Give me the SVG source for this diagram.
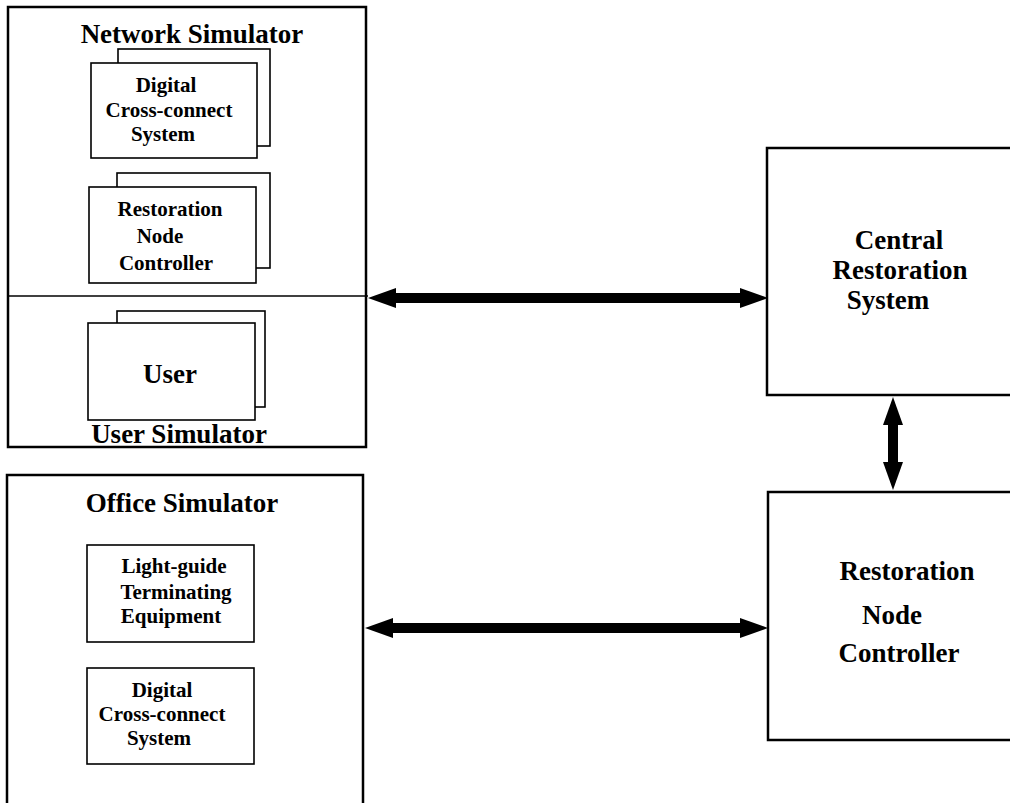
<svg xmlns="http://www.w3.org/2000/svg" width="1010" height="803" viewBox="0 0 1010 803">
<style>
  text { font-family: "Liberation Serif", "Times New Roman", serif; font-weight: bold; fill: #000; text-anchor: middle; }
  .title { font-size: 27px; }
  .inner { font-size: 21px; }
  .inner2 { font-size: 21px; }
  .big { font-size: 27px; }
  .rnc { font-size: 27px; }
  .outer { fill: none; stroke: #000; stroke-width: 2.5; }
  .box { fill: #fff; stroke: #000; stroke-width: 1.6; }
  .thin { fill: none; stroke: #000; stroke-width: 1.6; }
  .conn { stroke: #000; stroke-width: 10; fill: none; }
</style>
<defs>
  <marker id="head" markerUnits="userSpaceOnUse" markerWidth="28" markerHeight="20" refX="14" refY="10" orient="auto-start-reverse" viewBox="0 0 28 20">
    <path d="M0,0 L28,10 L0,20 z" fill="#000"/>
  </marker>
</defs>
<rect width="1010" height="803" fill="#fff"/>

<g id="network-simulator">
  <rect class="outer" x="8" y="7" width="358" height="440"/>
  <line class="thin" x1="8" y1="296" x2="368" y2="296"/>
  <text class="title" x="192" y="43">Network Simulator</text>
</g>

<g id="dcs-top">
  <rect class="box" x="118" y="49" width="152" height="97"/>
  <rect class="box" x="91" y="63" width="166" height="95"/>
  <text class="inner" x="166" y="92">Digital</text>
  <text class="inner" x="169" y="117">Cross-connect</text>
  <text class="inner" x="163" y="141">System</text>
</g>

<g id="rnc-top">
  <rect class="box" x="117" y="173" width="153" height="95"/>
  <rect class="box" x="89" y="187" width="167" height="96"/>
  <text class="inner" x="170" y="216">Restoration</text>
  <text class="inner" x="160" y="243">Node</text>
  <text class="inner" x="166" y="270">Controller</text>
</g>

<g id="user">
  <rect class="box" x="117" y="311" width="148" height="96"/>
  <rect class="box" x="88" y="323" width="167" height="97"/>
  <text class="title" x="170" y="383">User</text>
</g>

<g id="user-simulator">
  <text class="title" x="179" y="443">User Simulator</text>
</g>

<g id="office-simulator">
  <path class="outer" d="M7,805 V475 H363 V805"/>
  <text class="title" x="182" y="512">Office Simulator</text>
</g>

<g id="lte">
  <rect class="box" x="87" y="545" width="167" height="97"/>
  <text class="inner2" x="174" y="573">Light-guide</text>
  <text class="inner2" x="176" y="599">Terminating</text>
  <text class="inner2" x="171" y="623">Equipment</text>
</g>

<g id="dcs-office">
  <rect class="box" x="87" y="668" width="167" height="96"/>
  <text class="inner2" x="162" y="697">Digital</text>
  <text class="inner2" x="162" y="721">Cross-connect</text>
  <text class="inner2" x="159" y="745">System</text>
</g>

<g id="central-restoration-system">
  <path class="outer" d="M1012,148 H767 V395 H1012"/>
  <text class="big" x="899" y="249">Central</text>
  <text class="big" x="900" y="279">Restoration</text>
  <text class="big" x="888" y="309">System</text>
</g>

<g id="restoration-node-controller">
  <path class="outer" d="M1012,492 H768 V740 H1012"/>
  <text class="rnc" x="907" y="580">Restoration</text>
  <text class="rnc" x="892" y="624">Node</text>
  <text class="rnc" x="899" y="662">Controller</text>
</g>

<g id="connectors">
  <line class="conn" x1="382" y1="298" x2="754" y2="298" marker-start="url(#head)" marker-end="url(#head)"/>
  <line class="conn" x1="893" y1="411" x2="893" y2="476" marker-start="url(#head)" marker-end="url(#head)"/>
  <line class="conn" x1="379" y1="628" x2="754" y2="628" marker-start="url(#head)" marker-end="url(#head)"/>
</g>
</svg>
